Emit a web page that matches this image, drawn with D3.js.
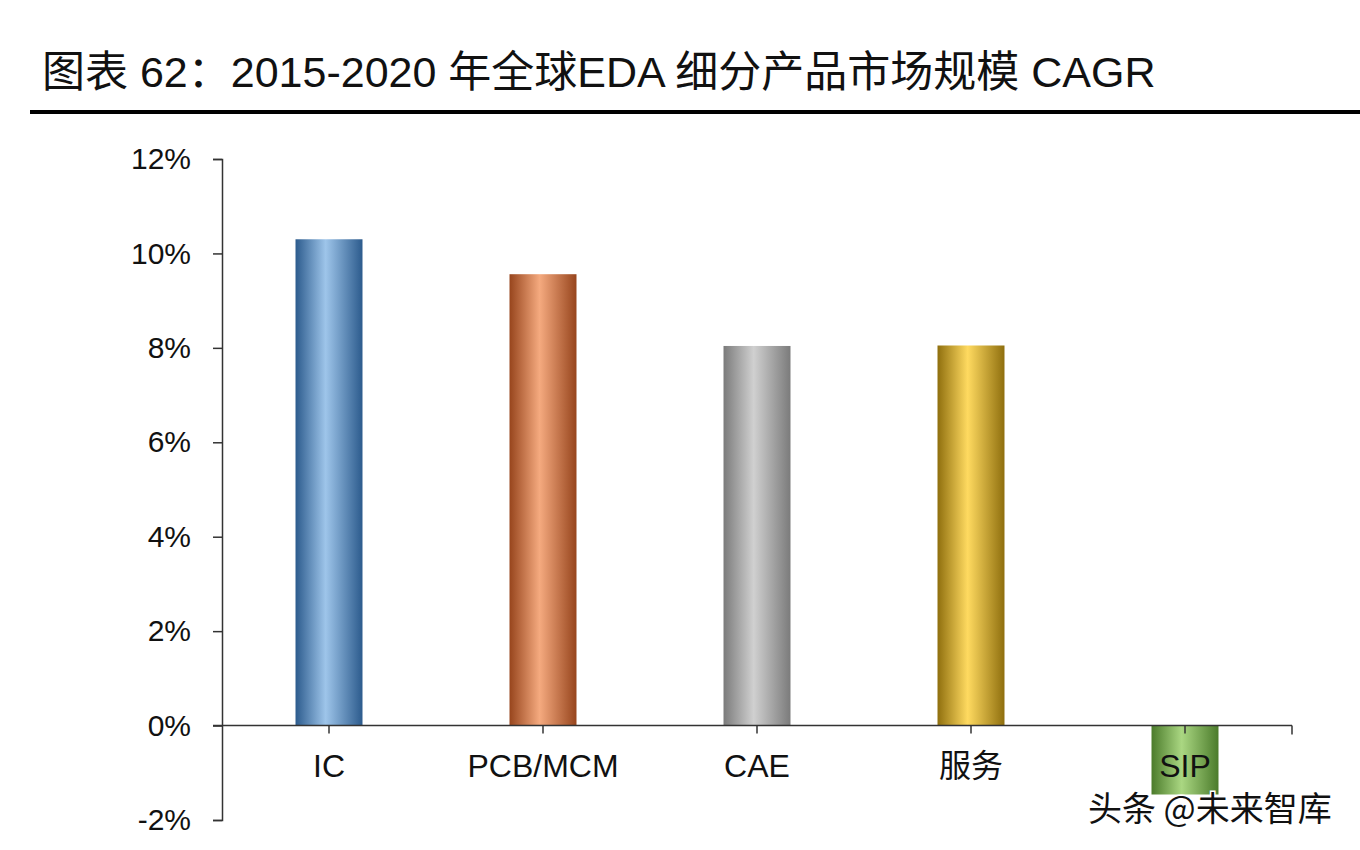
<!DOCTYPE html>
<html>
<head>
<meta charset="utf-8">
<script src="https://cdn.jsdelivr.net/npm/d3@7"></script>
<style>
  html, body { margin: 0; padding: 0; background: #ffffff; }
  svg { display: block; }
  text { font-family: "Liberation Sans", Arial, "Noto Sans CJK SC", sans-serif; fill: #111; }
</style>
</head>
<body>
<svg id="chart" width="1360" height="850"></svg>
<script>
const titleText = "图表 62：2015-2020 年全球EDA 细分产品市场规模 CAGR";
const categories = ["IC", "PCB/MCM", "CAE", "服务", "SIP"];
const values = [10.3, 9.56, 8.04, 8.05, -1.46];
const yTicks = [-2, 0, 2, 4, 6, 8, 10, 12];
const darkColors = ["#2c5b8d", "#97451d", "#7b7b7b", "#8f6f0e", "#4b7b2b"];
const lightColors = ["#9ec5ea", "#f5aa7f", "#d0d0d0", "#ffda60", "#aad782"];
const watermark = "头条 @未来智库";

const svg = d3.select("#chart");

// Title
svg.append("text")
  .attr("x", 42).attr("y", 87)
  .style("font-size", "43px")
  .text(titleText);
svg.append("rect")
  .attr("x", 30).attr("y", 110).attr("width", 1330).attr("height", 4)
  .attr("fill", "#000");

const x = d3.scaleBand().domain(categories).range([222, 1292])
  .paddingInner(0.687).paddingOuter(0.3435);
const y = d3.scaleLinear().domain([-2, 12]).range([820, 159]);

// gradients
const defs = svg.append("defs");
categories.forEach((c, i) => {
  const g = defs.append("linearGradient").attr("id", "g" + i)
    .attr("x1", "0%").attr("x2", "100%").attr("y1", "0%").attr("y2", "0%");
  g.append("stop").attr("offset", "0%").attr("stop-color", darkColors[i]);
  g.append("stop").attr("offset", "45%").attr("stop-color", lightColors[i]);
  g.append("stop").attr("offset", "100%").attr("stop-color", darkColors[i]);
});

// bars
svg.append("g").selectAll("rect").data(values).join("rect")
  .attr("x", (d, i) => x(categories[i]))
  .attr("width", x.bandwidth())
  .attr("y", d => y(Math.max(0, d)))
  .attr("height", d => Math.abs(y(d) - y(0)))
  .attr("fill", (d, i) => `url(#g${i})`);

// y axis
const yAxis = svg.append("g").attr("transform", "translate(222,0)")
  .call(d3.axisLeft(y).tickValues(yTicks).tickFormat(d => d + "%")
    .tickSize(9).tickSizeOuter(9).tickPadding(22));
yAxis.selectAll("path, line").attr("stroke", "#333").attr("stroke-width", 1.5);
yAxis.selectAll("text").style("font-size", "30px")
  .style("font-family", "'Liberation Sans', Arial, sans-serif").attr("fill", "#111");

// x axis
const xAxis = svg.append("g").attr("transform", `translate(0,${y(0)})`)
  .call(d3.axisBottom(x).tickSize(8).tickSizeOuter(0));
xAxis.select(".domain").remove();
xAxis.selectAll("line").attr("stroke", "#333").attr("stroke-width", 1.5);
xAxis.selectAll("text").attr("y", 51).attr("dy", null)
  .style("font-size", "32px").attr("fill", "#111");
xAxis.append("line").attr("x1", 213).attr("x2", 1292).attr("y1", 0).attr("y2", 0)
  .attr("stroke", "#333").attr("stroke-width", 1.5);
xAxis.append("line").attr("x1", 1292).attr("x2", 1292).attr("y1", 0).attr("y2", 9)
  .attr("stroke", "#333").attr("stroke-width", 1.5);

// watermark
svg.append("text").attr("x", 1088).attr("y", 821)
  .style("font-size", "34px")
  .style("font-family", "'Noto Sans CJK SC', sans-serif")
  .attr("fill", "#222")
  .attr("stroke", "#ffffff").attr("stroke-width", 3)
  .attr("paint-order", "stroke")
  .text(watermark);
</script>
</body>
</html>
